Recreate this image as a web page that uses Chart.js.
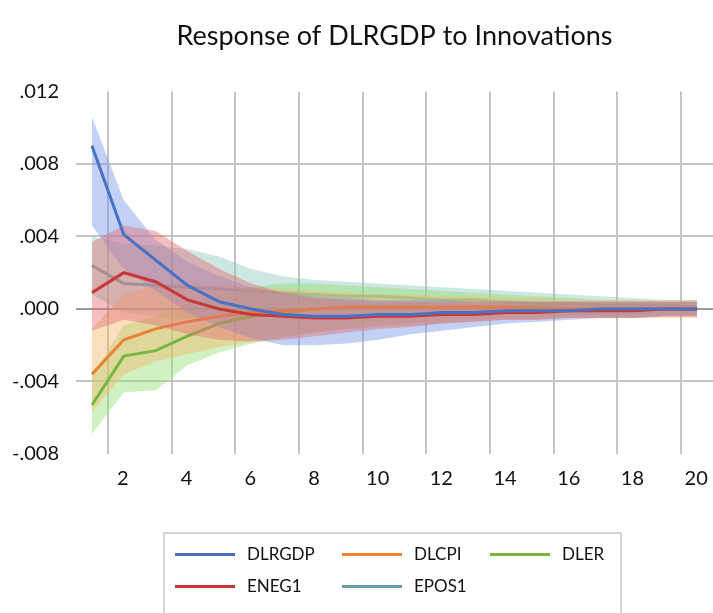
<!DOCTYPE html>
<html>
<head>
<meta charset="utf-8">
<script src="https://cdn.jsdelivr.net/npm/chart.js@4/dist/chart.umd.min.js"></script>
<style>
  html, body { margin: 0; padding: 0; background: #fff; overflow: hidden; }
  .wrap { position: relative; width: 713px; height: 613px; overflow: hidden; }
  canvas { position: absolute; left: 0; top: 0; }
  .legend {
    position: absolute; left: 163px; top: 532px; width: 459px; height: 100px;
    border: 2px solid #d4d4d4; box-sizing: border-box;
    font-family: Lato, sans-serif; font-size: 17px; color: #111;
  }
  .item { position: absolute; height: 20px; line-height: 20px; }
  .item i { position: absolute; left: 0; top: 9px; width: 60px; height: 3px; }
  .item span { position: absolute; left: 72px; top: 0; white-space: nowrap; }
</style>
</head>
<body>
<div class="wrap">
  <canvas id="chart" width="713" height="613"></canvas>
  <div class="legend" id="legend"></div>
</div>
<script>
const periods = [1, 2, 3, 4, 5, 6, 7, 8, 9, 10, 11, 12, 13, 14, 15, 16, 17, 18, 19, 20];
const xTickLabels = [2, 4, 6, 8, 10, 12, 14, 16, 18, 20];

// responses and bands
const dlrgdp   = [0.0090, 0.0041, 0.0027, 0.0013, 0.0004, 0.0000, -0.0003, -0.0004, -0.0004, -0.0003, -0.0003, -0.0002, -0.0002, -0.0001, -0.0001, -0.0001, 0.0000, 0.0000, 0.0000, 0.0000];
const dlrgdpHi = [0.0106, 0.0060, 0.0038, 0.0026, 0.0018, 0.0012, 0.0009, 0.0007, 0.0006, 0.0005, 0.0005, 0.0005, 0.0004, 0.0004, 0.0004, 0.0004, 0.0004, 0.0004, 0.0004, 0.0004];
const dlrgdpLo = [0.0046, 0.0022, 0.0010, -0.0002, -0.0010, -0.0016, -0.0020, -0.0020, -0.0019, -0.0017, -0.0014, -0.0012, -0.0010, -0.0008, -0.0007, -0.0006, -0.0005, -0.0005, -0.0004, -0.0004];

const dlcpi   = [-0.0036, -0.0017, -0.0011, -0.0007, -0.0004, -0.0002, -0.0001, 0.0000, 0.0001, 0.0001, 0.0001, 0.0001, 0.0001, 0.0001, 0.0000, 0.0000, 0.0000, 0.0000, 0.0000, 0.0000];
const dlcpiHi = [-0.0011, 0.0008, 0.0013, 0.0014, 0.0013, 0.0012, 0.0011, 0.0010, 0.0009, 0.0008, 0.0008, 0.0007, 0.0007, 0.0006, 0.0006, 0.0005, 0.0005, 0.0005, 0.0005, 0.0005];
const dlcpiLo = [-0.0057, -0.0036, -0.0029, -0.0025, -0.0021, -0.0018, -0.0015, -0.0013, -0.0011, -0.0010, -0.0009, -0.0008, -0.0007, -0.0006, -0.0006, -0.0005, -0.0005, -0.0005, -0.0005, -0.0005];

const dler   = [-0.0053, -0.0026, -0.0023, -0.0015, -0.0008, -0.0004, -0.0002, 0.0000, 0.0001, 0.0001, 0.0001, 0.0001, 0.0001, 0.0001, 0.0001, 0.0000, 0.0000, 0.0000, 0.0000, 0.0000];
const dlerHi = [-0.0037, -0.0009, -0.0004, 0.0003, 0.0008, 0.0012, 0.0014, 0.0014, 0.0013, 0.0012, 0.0011, 0.0010, 0.0009, 0.0008, 0.0007, 0.0006, 0.0005, 0.0005, 0.0004, 0.0004];
const dlerLo = [-0.0069, -0.0046, -0.0045, -0.0031, -0.0024, -0.0019, -0.0016, -0.0013, -0.0011, -0.0009, -0.0008, -0.0007, -0.0006, -0.0005, -0.0005, -0.0004, -0.0004, -0.0004, -0.0004, -0.0004];

const eneg1   = [0.0009, 0.0020, 0.0015, 0.0005, 0.0000, -0.0003, -0.0004, -0.0005, -0.0005, -0.0004, -0.0004, -0.0003, -0.0003, -0.0002, -0.0002, -0.0001, -0.0001, -0.0001, 0.0000, 0.0000];
const eneg1Hi = [0.0037, 0.0046, 0.0043, 0.0032, 0.0022, 0.0014, 0.0009, 0.0006, 0.0005, 0.0004, 0.0004, 0.0004, 0.0004, 0.0004, 0.0004, 0.0004, 0.0004, 0.0004, 0.0004, 0.0004];
const eneg1Lo = [-0.0012, -0.0006, -0.0009, -0.0014, -0.0017, -0.0018, -0.0017, -0.0015, -0.0013, -0.0011, -0.0010, -0.0008, -0.0007, -0.0006, -0.0006, -0.0005, -0.0005, -0.0005, -0.0004, -0.0004];

const epos1   = [0.0024, 0.0014, 0.0013, 0.0012, 0.0011, 0.0010, 0.0009, 0.0008, 0.0007, 0.0007, 0.0006, 0.0005, 0.0005, 0.0004, 0.0003, 0.0003, 0.0002, 0.0002, 0.0002, 0.0001];
const epos1Hi = [0.0040, 0.0036, 0.0035, 0.0033, 0.0029, 0.0022, 0.0018, 0.0016, 0.0015, 0.0014, 0.0013, 0.0012, 0.0011, 0.0010, 0.0009, 0.0008, 0.0007, 0.0006, 0.0005, 0.0005];
const epos1Lo = [0.0008, -0.0002, -0.0004, -0.0005, -0.0005, -0.0004, -0.0004, -0.0003, -0.0003, -0.0003, -0.0003, -0.0003, -0.0003, -0.0003, -0.0003, -0.0003, -0.0003, -0.0003, -0.0003, -0.0003];

// order: lower number is drawn on top
const series = [
  { name: "DLRGDP", mid: dlrgdp, hi: dlrgdpHi, lo: dlrgdpLo, line: "#4a72c4", band: "rgba(110,145,230,0.42)", bandOrder: 2, lineOrder: 0 },
  { name: "DLCPI",  mid: dlcpi,  hi: dlcpiHi,  lo: dlcpiLo,  line: "#e8823a", band: "rgba(246,180,100,0.42)", bandOrder: 3, lineOrder: 1.5 },
  { name: "DLER",   mid: dler,   hi: dlerHi,   lo: dlerLo,   line: "#74b843", band: "rgba(150,225,120,0.45)", bandOrder: 4, lineOrder: 1.5 },
  { name: "ENEG1",  mid: eneg1,  hi: eneg1Hi,  lo: eneg1Lo,  line: "#c8383a", band: "rgba(226,110,115,0.45)", bandOrder: 1, lineOrder: 0 },
  { name: "EPOS1",  mid: epos1,  hi: epos1Hi,  lo: epos1Lo,  line: "#62a0a4", band: "rgba(130,195,185,0.40)", bandOrder: 5, lineOrder: 6 },
];

const pts = arr => arr.map((v, i) => ({ x: periods[i], y: v }));

const datasets = [];
series.forEach(s => {
  // upper edge filled down to the next dataset (its lower edge)
  datasets.push({ label: s.name + " hi", data: pts(s.hi), borderWidth: 0, pointRadius: 0,
    backgroundColor: s.band, fill: "+1", order: s.bandOrder, tension: 0 });
  datasets.push({ label: s.name + " lo", data: pts(s.lo), borderWidth: 0, pointRadius: 0,
    fill: false, order: s.bandOrder, tension: 0 });
});
series.forEach(s => {
  datasets.push({ label: s.name, data: pts(s.mid), borderColor: s.line, borderWidth: 3,
    pointRadius: 0, fill: false, order: s.lineOrder, tension: 0 });
});

const fmtY = v => v.toFixed(3).replace("0.", ".");

new Chart(document.getElementById("chart").getContext("2d"), {
  type: "line",
  data: { datasets },
  options: {
    responsive: false,
    animation: false,
    layout: { padding: { top: 0, right: 0, bottom: 119, left: 0 } },
    scales: {
      x: {
        type: "linear",
        min: 0.5,
        max: 20.5,
        afterBuildTicks: scale => {
          scale.ticks = xTickLabels.map(v => ({ value: v - 0.5 }));
        },
        afterFit: scale => { scale.height = 40; },
        border: { display: false },
        grid: { color: "#c4c4c4", lineWidth: 2, drawTicks: false },
        ticks: {
          callback: v => String(v + 0.5),
          labelOffset: 15,
          padding: 13,
          maxRotation: 0,
          autoSkip: false,
          color: "#111",
          font: { family: "Lato", size: 20 },
        },
      },
      y: {
        min: -0.008,
        max: 0.012,
        afterFit: scale => { scale.width = 76; },
        border: { display: false },
        grid: {
          drawTicks: false,
          lineWidth: 2,
          color: ctx => {
            const v = ctx.tick.value;
            if (Math.abs(v - 0.012) < 1e-9 || Math.abs(v + 0.008) < 1e-9) return "rgba(0,0,0,0)";
            if (Math.abs(v) < 1e-9) return "#9a9a9a";
            return "#c4c4c4";
          },
        },
        ticks: {
          stepSize: 0.004,
          callback: v => fmtY(v),
          padding: 17,
          color: "#111",
          font: { family: "Lato", size: 20 },
        },
      },
    },
    plugins: {
      legend: { display: false },
      tooltip: { enabled: false },
      title: {
        display: true,
        fullSize: false,
        text: "Response of DLRGDP to Innovations",
        color: "#111",
        font: { family: "Lato", size: 27, weight: "normal" },
        padding: { top: 20, bottom: 39 },
      },
    },
  },
});

// legend laid out in columns like the original
const legendPos = [
  { left: 10, top: 10 }, { left: 177, top: 10 }, { left: 325, top: 10 },
  { left: 10, top: 42 }, { left: 177, top: 42 },
];
const legend = document.getElementById("legend");
series.forEach((s, i) => {
  const el = document.createElement("div");
  el.className = "item";
  el.style.left = legendPos[i].left + "px";
  el.style.top = legendPos[i].top + "px";
  el.innerHTML = '<i style="background:' + s.line + '"></i><span>' + s.name + "</span>";
  legend.appendChild(el);
});
</script>
</body>
</html>
